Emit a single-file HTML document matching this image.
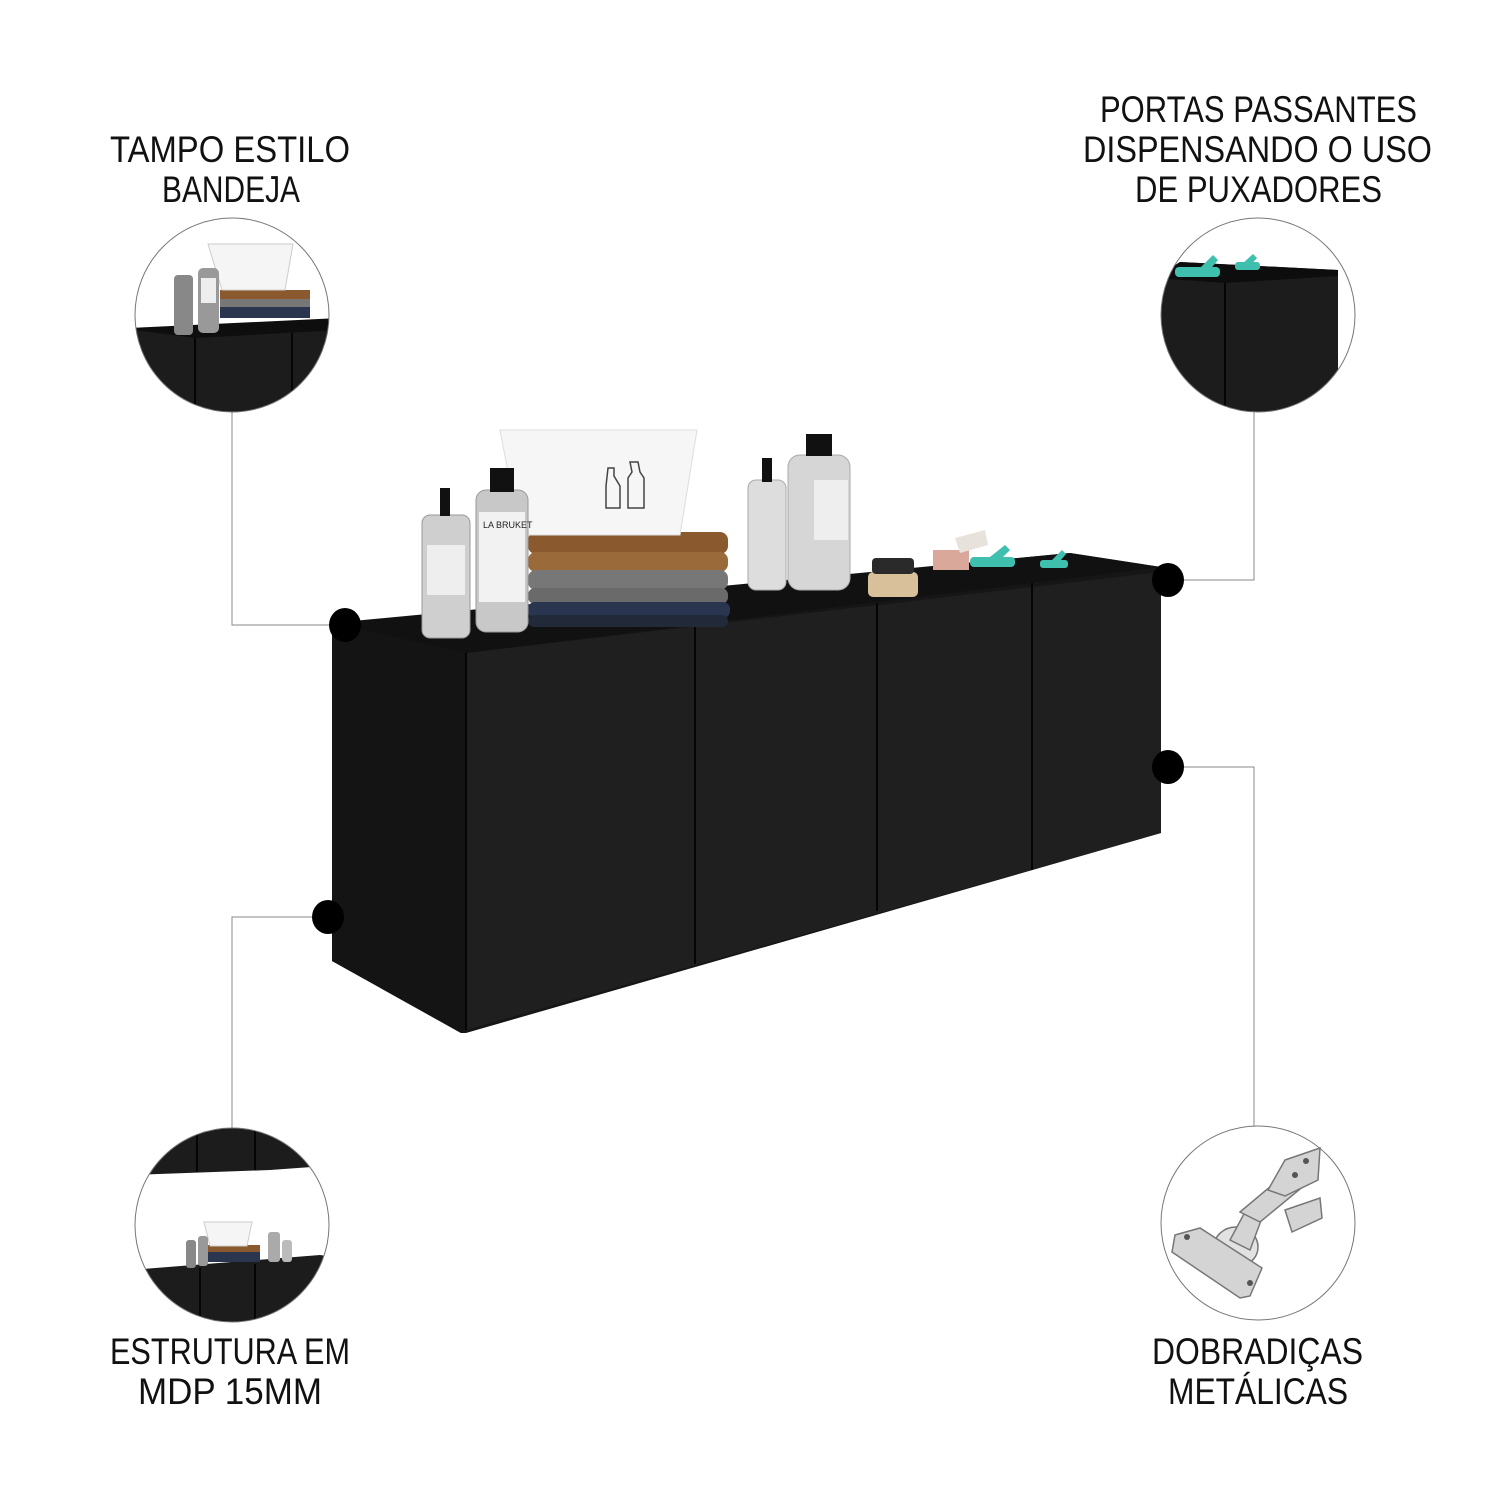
<!DOCTYPE html>
<html><head><meta charset="utf-8"><style>
html,body{margin:0;padding:0;background:#fff;width:1500px;height:1500px;overflow:hidden}
svg{display:block}
text{font-family:"Liberation Sans",sans-serif;font-size:37px;fill:#111;text-anchor:start}
</style></head><body>
<svg width="1500" height="1500" viewBox="0 0 1500 1500" xmlns="http://www.w3.org/2000/svg">
<defs>
<clipPath id="c1"><circle cx="232" cy="315" r="97"/></clipPath>
<clipPath id="c2"><circle cx="1258" cy="315" r="97"/></clipPath>
<clipPath id="c3"><circle cx="232" cy="1225" r="97"/></clipPath>
<clipPath id="c4"><circle cx="1258" cy="1223" r="97"/></clipPath>
</defs>

<!-- labels -->
<text x="110" y="162" textLength="240" lengthAdjust="spacingAndGlyphs">TAMPO ESTILO</text>
<text x="162" y="202" textLength="138" lengthAdjust="spacingAndGlyphs">BANDEJA</text>
<text x="1100" y="122" textLength="317" lengthAdjust="spacingAndGlyphs">PORTAS PASSANTES</text>
<text x="1083" y="162" textLength="349" lengthAdjust="spacingAndGlyphs">DISPENSANDO O USO</text>
<text x="1135" y="202" textLength="247" lengthAdjust="spacingAndGlyphs">DE PUXADORES</text>
<text x="110" y="1364" textLength="240" lengthAdjust="spacingAndGlyphs">ESTRUTURA EM</text>
<text x="138" y="1404" textLength="184" lengthAdjust="spacingAndGlyphs">MDP 15MM</text>
<text x="1152" y="1364" textLength="211" lengthAdjust="spacingAndGlyphs">DOBRADIÇAS</text>
<text x="1168" y="1404" textLength="180" lengthAdjust="spacingAndGlyphs">METÁLICAS</text>

<!-- connectors -->
<g stroke="#888" stroke-width="1" fill="none">
<polyline points="232,412 232,625 345,625"/>
<polyline points="1254,412 1254,580 1168,580"/>
<polyline points="1168,767 1254,767 1254,1126"/>
<polyline points="328,917 232,917 232,1128"/>
</g>

<!-- cabinet -->
<polygon points="332,623 470,612 1070,553 1161,567 1161,833 466,1033 461,1033 332,961" fill="#161616"/>
<polygon points="466,653 1161,572 1161,833 466,1030" fill="#1f1f1f"/>
<polygon points="332,623 1070,553 1161,567 466,653" fill="#111"/>
<polygon points="332,623 466,653 466,1030 461,1033 332,961" fill="#141414"/>
<g stroke="#050505" stroke-width="2">
<line x1="466" y1="653" x2="466" y2="1030"/>
<line x1="695" y1="626" x2="695" y2="964"/>
<line x1="877" y1="603" x2="877" y2="911"/>
<line x1="1032" y1="583" x2="1032" y2="870"/>
</g>

<!-- items on top -->
<!-- towels -->
<g>
<rect x="528" y="532" width="200" height="22" rx="8" fill="#8a5a2e"/>
<rect x="528" y="552" width="200" height="20" rx="8" fill="#9a6a3a"/>
<rect x="528" y="570" width="200" height="20" rx="8" fill="#777"/>
<rect x="528" y="588" width="200" height="16" rx="7" fill="#6a6a6a"/>
<rect x="528" y="602" width="202" height="16" rx="7" fill="#2a3550"/>
<rect x="528" y="615" width="200" height="12" rx="6" fill="#222a3a"/>
</g>
<!-- basin -->
<polygon points="500,430 697,430 680,535 520,535" fill="#f6f6f6" stroke="#ddd"/>
<g stroke="#444" stroke-width="1.5" fill="none">
<path d="M608,468 l6,0 l0,8 l6,10 l0,22 l-14,0 l0,-22 z"/>
<path d="M630,462 l8,0 l2,10 l4,6 l0,30 l-16,0 l0,-30 l4,-6 z"/>
</g>
<!-- bottles -->
<rect x="422" y="515" width="48" height="123" rx="8" fill="#cfcfcf" stroke="#999"/>
<rect x="440" y="488" width="10" height="28" fill="#111"/>
<rect x="427" y="545" width="38" height="50" fill="#eee"/>
<rect x="476" y="490" width="52" height="142" rx="10" fill="#c8c8c8" stroke="#999"/>
<rect x="490" y="468" width="24" height="24" fill="#111"/>
<rect x="479" y="512" width="46" height="90" fill="#f2f2f2"/>
<text x="483" y="528" style="font-size:9px;fill:#222">LA BRUKET</text>
<rect x="748" y="480" width="38" height="110" rx="8" fill="#ddd" stroke="#aaa"/>
<rect x="762" y="458" width="10" height="24" fill="#111"/>
<rect x="788" y="455" width="62" height="135" rx="12" fill="#d6d6d6" stroke="#aaa"/>
<rect x="806" y="434" width="26" height="22" fill="#111"/>
<rect x="814" y="480" width="34" height="60" fill="#eee"/>
<!-- brush -->
<rect x="868" y="572" width="50" height="25" rx="5" fill="#d8c09a"/>
<rect x="872" y="558" width="42" height="16" rx="4" fill="#2a2a2a"/>
<!-- soap -->
<rect x="933" y="550" width="36" height="20" fill="#d9a89a"/>
<polygon points="955,538 985,530 988,545 960,553" fill="#e8e2dc"/>
<!-- clips -->
<g fill="#3fbfae">
<rect x="970" y="557" width="45" height="10" rx="4"/>
<polygon points="990,557 1005,545 1010,550 1000,560"/>
<rect x="1040" y="560" width="28" height="8" rx="3"/>
<polygon points="1050,562 1062,550 1066,554 1056,566"/>
</g>

<!-- dots -->
<g fill="#000">
<ellipse cx="345" cy="625" rx="16" ry="17"/>
<ellipse cx="1168" cy="580" rx="16" ry="17"/>
<ellipse cx="1168" cy="767" rx="16" ry="17"/>
<ellipse cx="328" cy="917" rx="16" ry="17"/>
</g>

<!-- circle 1: top-left -->
<g clip-path="url(#c1)">
<rect x="130" y="210" width="210" height="220" fill="#fff"/>
<polygon points="130,328 175,330 300,330 340,322 340,420 130,420" fill="#1c1c1c"/>
<polygon points="130,328 340,318 340,330 195,338 135,330" fill="#0e0e0e"/>
<line x1="195" y1="338" x2="195" y2="420" stroke="#050505" stroke-width="2"/>
<line x1="292" y1="333" x2="292" y2="420" stroke="#050505" stroke-width="2"/>
<rect x="220" y="290" width="90" height="10" fill="#8a5a2e"/>
<rect x="220" y="299" width="90" height="9" fill="#777"/>
<rect x="220" y="307" width="90" height="11" fill="#2a3550"/>
<polygon points="208,244 293,244 285,290 222,290" fill="#f5f5f5" stroke="#ccc"/>
<rect x="174" y="275" width="19" height="60" rx="4" fill="#888"/>
<rect x="198" y="268" width="21" height="65" rx="5" fill="#999"/>
<rect x="201" y="278" width="15" height="25" fill="#eee"/>
</g>
<circle cx="232" cy="315" r="97" fill="none" stroke="#777" stroke-width="1"/>

<!-- circle 2: top-right -->
<g clip-path="url(#c2)">
<rect x="1150" y="210" width="220" height="220" fill="#fff"/>
<polygon points="1155,278 1180,262 1338,270 1338,420 1155,420" fill="#1c1c1c"/>
<polygon points="1155,278 1180,262 1338,270 1338,276 1225,283" fill="#0d0d0d"/>
<line x1="1225" y1="283" x2="1225" y2="420" stroke="#050505" stroke-width="2"/>
<g fill="#3fbfae">
<rect x="1175" y="267" width="45" height="10" rx="4"/>
<polygon points="1200,268 1213,255 1218,260 1208,272"/>
<rect x="1235" y="262" width="25" height="8" rx="3"/>
<polygon points="1242,264 1253,254 1257,258 1248,268"/>
</g>
</g>
<circle cx="1258" cy="315" r="97" fill="none" stroke="#777" stroke-width="1"/>

<!-- circle 3: bottom-left -->
<g clip-path="url(#c3)">
<rect x="130" y="1120" width="210" height="220" fill="#fff"/>
<polygon points="130,1128 340,1128 340,1165 270,1170 130,1175" fill="#1c1c1c"/>
<line x1="197" y1="1128" x2="197" y2="1172" stroke="#050505" stroke-width="2"/>
<line x1="255" y1="1128" x2="255" y2="1170" stroke="#050505" stroke-width="2"/>
<polygon points="130,1270 320,1255 340,1258 340,1330 130,1330" fill="#1c1c1c"/>
<line x1="200" y1="1268" x2="200" y2="1330" stroke="#050505" stroke-width="2"/>
<line x1="255" y1="1264" x2="255" y2="1330" stroke="#050505" stroke-width="2"/>
<rect x="208" y="1245" width="52" height="8" fill="#8a5a2e"/>
<rect x="208" y="1252" width="52" height="10" fill="#2a3550"/>
<polygon points="204,1222 252,1222 247,1246 210,1246" fill="#f5f5f5" stroke="#ccc"/>
<rect x="186" y="1240" width="10" height="28" rx="3" fill="#888"/>
<rect x="198" y="1236" width="10" height="30" rx="3" fill="#999"/>
<rect x="268" y="1232" width="12" height="30" rx="3" fill="#aaa"/>
<rect x="282" y="1240" width="10" height="22" rx="3" fill="#bbb"/>
</g>
<circle cx="232" cy="1225" r="97" fill="none" stroke="#777" stroke-width="1"/>

<!-- circle 4: hinge -->
<circle cx="1258" cy="1223" r="97" fill="#fff" stroke="#777" stroke-width="1"/>
<g stroke="#777" stroke-width="1.5" fill="#d4d4d4">
<ellipse cx="1236" cy="1247" rx="22" ry="20" fill="#e2e2e2"/>
<polygon points="1175,1235 1200,1228 1262,1268 1250,1296 1240,1298 1172,1252"/>
<polygon points="1230,1240 1245,1212 1262,1218 1250,1250"/>
<polygon points="1240,1212 1290,1170 1305,1185 1260,1222"/>
<polygon points="1285,1160 1320,1148 1318,1180 1285,1196 1268,1190"/>
<polygon points="1285,1210 1320,1198 1322,1218 1292,1232"/>
</g>
<g fill="#555">
<circle cx="1187" cy="1237" r="3"/><circle cx="1250" cy="1283" r="3"/>
<circle cx="1295" cy="1175" r="3"/><circle cx="1306" cy="1161" r="3"/>
</g>
</svg>
</body></html>
